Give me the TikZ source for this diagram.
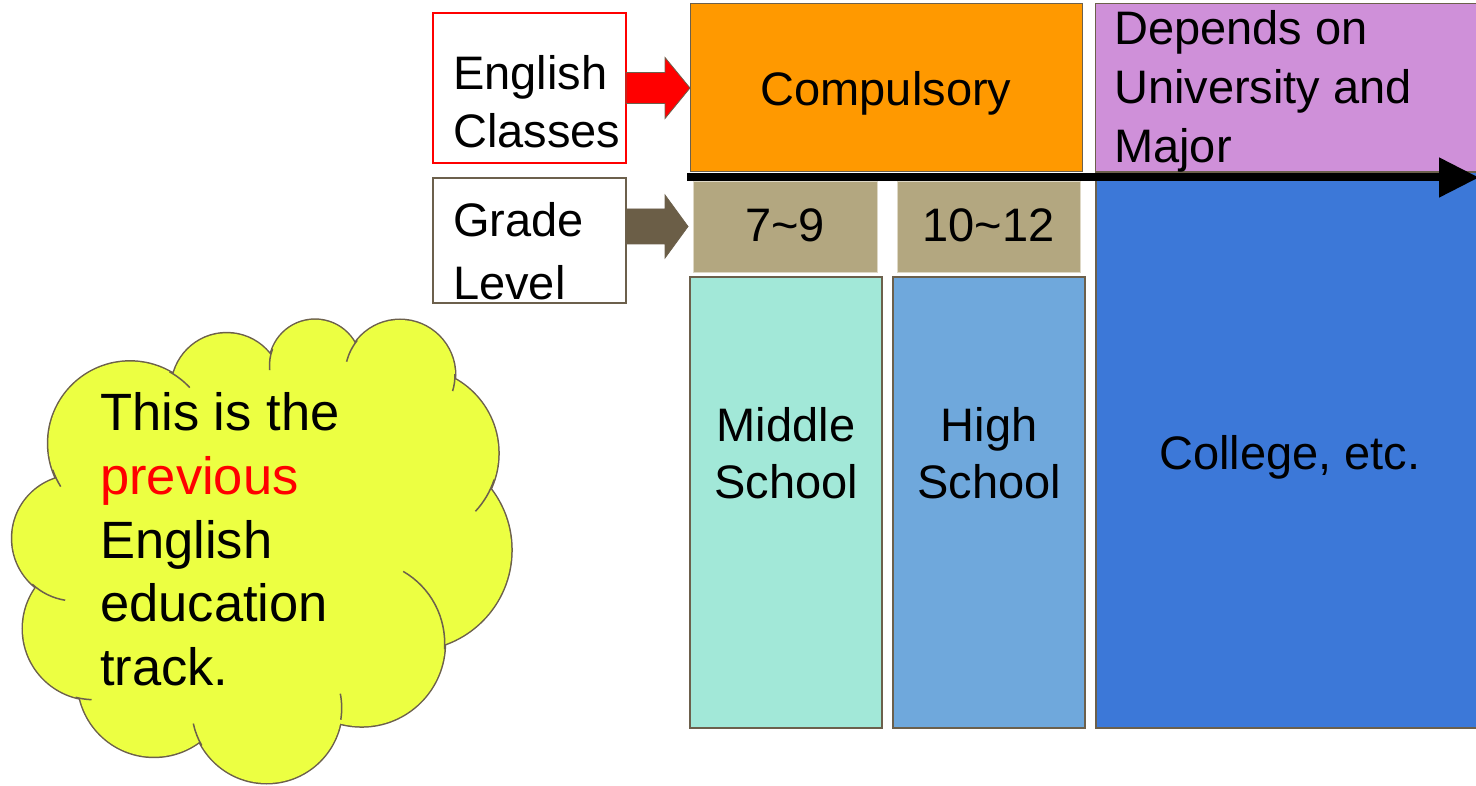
\documentclass[tikz,border=0pt]{standalone}
\usepackage{fontspec}
\setmainfont{Liberation Sans}
\usetikzlibrary{arrows.meta,calc}
\definecolor{bordr}{RGB}{108,96,76}
\definecolor{orng}{RGB}{255,153,0}
\definecolor{purp}{RGB}{207,144,217}
\definecolor{gradetan}{RGB}{179,167,128}
\definecolor{gradeline}{RGB}{222,216,198}
\definecolor{mint}{RGB}{162,232,216}
\definecolor{lblue}{RGB}{111,168,220}
\definecolor{dblue}{RGB}{60,120,216}
\definecolor{cloudy}{RGB}{236,255,66}
\definecolor{arrbrown}{RGB}{107,94,71}
\newcommand{\mll}[1]{\begin{tabular}[t]{@{}l@{}}#1\end{tabular}}
\newcommand{\mlc}[1]{\begin{tabular}[t]{@{}c@{}}#1\end{tabular}}
\begin{document}
\begin{tikzpicture}[x=1pt,y=-1pt,
  box/.style={rectangle, inner sep=0pt, outer sep=0pt, anchor=north west},
  colbox/.style={box, draw=bordr, line width=1.5pt},
  gradebox/.style={box, fill=gradetan, draw=gradeline, line width=0.8pt, minimum width=184pt, minimum height=91pt},
  txt/.style={inner sep=0pt, font=\fontsize{47}{58}\selectfont},
  blockarrow/.style={draw=bordr, line width=0.8pt, line join=miter},
  puffline/.style={draw=bordr, line width=1.5pt},
]
\useasboundingbox (0,0) rectangle (1476,786);

% ---------- cloud ----------
\coordinate (pA) at (130,443.3);
\coordinate (pB) at (226.7,388.3);
\coordinate (pC) at (315,365.3);
\coordinate (pD) at (400,375);
\coordinate (pE) at (413.3,453.3);
\coordinate (pF) at (411.3,550);
\coordinate (pG) at (361.7,643.3);
\coordinate (pH) at (266.7,708);
\coordinate (pI) at (154,680.7);
\coordinate (pJ) at (94,628.7);
\coordinate (pK) at (75,538.3);
\coordinate (pM) at (270,545);
\coordinate (pN) at (355,400);
\path[draw=bordr, line width=3pt]
  (pA) circle[radius=81.7] (pB) circle[radius=55] (pC) circle[radius=45.5]
  (pD) circle[radius=55] (pE) circle[radius=85] (pF) circle[radius=100]
  (pG) circle[radius=83] (pH) circle[radius=75] (pI) circle[radius=76]
  (pJ) circle[radius=71] (pK) circle[radius=62.7];
\path[fill=cloudy]
  (pA) circle[radius=81.7] (pB) circle[radius=55] (pC) circle[radius=45.5]
  (pD) circle[radius=55] (pE) circle[radius=85] (pF) circle[radius=100]
  (pG) circle[radius=83] (pH) circle[radius=75] (pI) circle[radius=76]
  (pJ) circle[radius=71] (pK) circle[radius=62.7];
\path[fill=cloudy] (pM) circle[x radius=160, y radius=170];
\path[fill=cloudy] (pN) circle[radius=28];
% inner strokes of the cloud
\draw[puffline] ([shift={(-61:81.7)}]pA) arc[start angle=-61, end angle=-43, radius=81.7];
\draw[puffline] ([shift={(174:45.5)}]pC) arc[start angle=174, end angle=201, radius=45.5];
\draw[puffline] ([shift={(194:55)}]pD) arc[start angle=194, end angle=219, radius=55];
\draw[puffline] ([shift={(-1:55)}]pD) arc[start angle=-1, end angle=17, radius=55];
\draw[puffline] ([shift={(18:85)}]pE) arc[start angle=18, end angle=43, radius=85];
\draw[puffline] ([shift={(-60:83)}]pG) arc[start angle=-60, end angle=4, radius=83];
\draw[puffline] ([shift={(-11:75)}]pH) arc[start angle=-11, end angle=9, radius=75];
\draw[puffline] ([shift={(150:75)}]pH) arc[start angle=150, end angle=168, radius=75];
\draw[puffline] ([shift={(92:71)}]pJ) arc[start angle=92, end angle=105, radius=71];
\draw[puffline] ([shift={(99:62.7)}]pK) arc[start angle=99, end angle=133, radius=62.7];
\draw[puffline] ([shift={(148:81.7)}]pA) arc[start angle=148, end angle=161, radius=81.7];
\node[anchor=base west, inner sep=0pt, font=\fontsize{52.5}{64}\selectfont] (cloudtext) at (100,430)
  {\mll{This is the\\\textcolor{red}{previous}\\English\\education\\track.}};

% ---------- boxes ----------
\node[box, fill=orng, draw=bordr, line width=1pt, minimum width=392pt, minimum height=168pt] (comp) at (690,4) {};
\node[box, fill=purp, draw=bordr, line width=1pt, minimum width=389pt, minimum height=168pt] (dep) at (1095,4) {};
\node[colbox, fill=dblue, minimum width=388pt, minimum height=556pt] (col) at (1096,172) {};
\node[gradebox] (g1) at (693,181) {};
\node[gradebox, minimum width=183pt] (g2) at (897,181) {};
\node[colbox, fill=mint, minimum width=192pt, minimum height=451pt] (ms) at (690,277) {};
\node[colbox, fill=lblue, minimum width=192pt, minimum height=451pt] (hs) at (893,277) {};
\node[box, fill=white, draw=red, line width=2.5pt, minimum width=193pt, minimum height=150pt] (ec) at (433,13) {};
\node[box, fill=white, draw=bordr, line width=2.5pt, minimum width=193pt, minimum height=125pt] (gl) at (433,178) {};

% ---------- texts ----------
\node[txt, anchor=base west] (ectext) at (453,90) {\mll{English\\Classes}};
\node[txt, anchor=base west, font=\fontsize{47}{63}\selectfont] (gltext) at (453,237) {\mll{Grade\\Level}};
\node[txt, anchor=base] (comptext) at (886,106) {Compulsory};
\node[txt, anchor=base west, font=\fontsize{47}{59}\selectfont] (deptext) at (1114,45) {\mll{Depends on\\University and\\Major}};
\node[txt, anchor=base] (g1text) at (785,242) {7\textasciitilde 9};
\node[txt, anchor=base] (g2text) at (988.5,242) {10\textasciitilde 12};
\node[txt, anchor=base, font=\fontsize{47}{57}\selectfont] (mstext) at (786,441.7) {\mlc{Middle\\School}};
\node[txt, anchor=base, font=\fontsize{47}{57}\selectfont] (hstext) at (989,441.7) {\mlc{High\\School}};
\node[txt, anchor=base] (coltext) at (1290,469) {College, etc.};

% ---------- block arrows ----------
\path[blockarrow, fill=red]
  ($(ec.east)+(0,-15.5)$) -- ($(comp.west)+(-25,-15.5)$) -- ($(comp.west)+(-25,-30.5)$)
  -- (comp.west) -- ($(comp.west)+(-25,30.5)$) -- ($(comp.west)+(-25,15.5)$)
  -- ($(ec.east)+(0,15.5)$) -- cycle;
\path[blockarrow, fill=arrbrown]
  ($(gl.east |- g1.west)+(0,-17.5)$) -- ($(g1.west)+(-28,-17.5)$) -- ($(g1.west)+(-28,-31.5)$)
  -- ($(g1.west)+(-5,0)$) -- ($(g1.west)+(-28,31.5)$) -- ($(g1.west)+(-28,17.5)$)
  -- ($(gl.east |- g1.west)+(0,17.5)$) -- cycle;

% ---------- time line ----------
\coordinate (t0) at (687,177.5);
\coordinate (t1) at (1479,177.5);
\draw[line width=8pt, -{Triangle[length=40pt,width=38pt]}] (t0) -- (t1);
\end{tikzpicture}
\end{document}
